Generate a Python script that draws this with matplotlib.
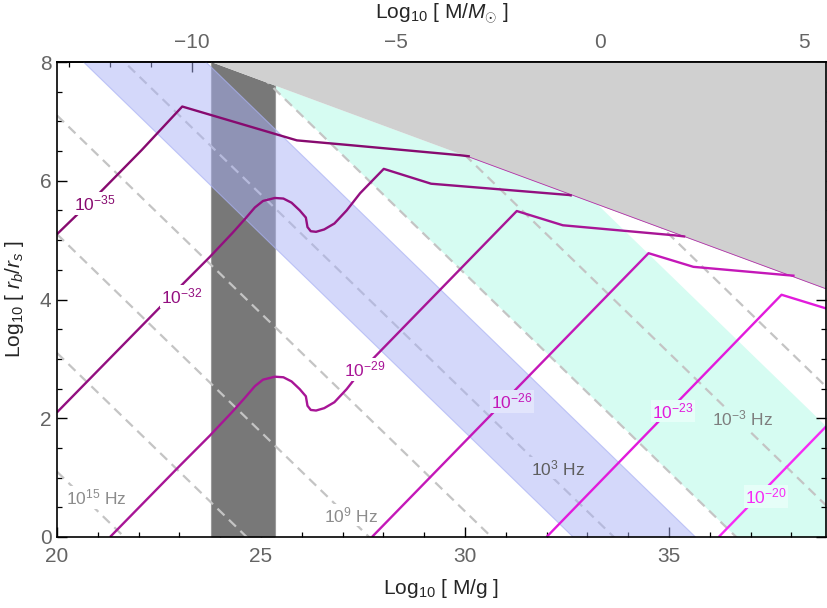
import numpy as np
import matplotlib
matplotlib.use("Agg")
import matplotlib.pyplot as plt
from matplotlib.ticker import MultipleLocator, FixedLocator

plt.rcParams['font.family'] = ['Liberation Sans', 'DejaVu Sans']
plt.rcParams['mathtext.fontset'] = 'custom'
plt.rcParams['mathtext.rm'] = 'Liberation Sans'
plt.rcParams['mathtext.it'] = 'Liberation Sans:italic'
plt.rcParams['mathtext.bf'] = 'Liberation Sans:bold'
plt.rcParams['lines.scale_dashes'] = False

# ---------------- data ----------------
LOG_MSUN_G = 33.2986
x_range = (20.0, 38.85)
y_range = (0.0, 8.0)

# excluded (light gray) region boundary
bound_x = [23.8, 38.85]
bound_y = [8.0, 4.18]

# dark vertical band (log10 M/g)
dark_band = (23.77, 25.34)

# frequency contours (log10 f / Hz)
freq_logs = [15, 12, 9, 6, 3, 0, -3, -6]
freq_ref_intercept = 1.1      # y at x=20 of the 10^15 Hz contour
freq_slope = -2.0 / 3.0       # dy/dx along a contour
freq_step = 2.0 / 3.0         # intercept shift per decade of f
blue_band = (1, 4)            # log10 f range
cyan_band = (-5, 0)

# top axis ticks (log10 M/Msun)
top_major = [-10, -5, 0, 5]
top_minor = [-13, -12, -11, -9, -8, -7, -6, -4, -3, -2, -1, 1, 2, 3, 4]

# strain contours
c35_x = [20.0, 21.05, 22.08, 23.07, 25.88, 27.18, 29.88, 30.12]
c35_y = [5.10, 5.80, 6.52, 7.25, 6.68, 6.60, 6.43, 6.41]

c32_x = [20.0, 23.01, 23.75, 24.30, 24.60, 24.85, 25.05, 25.34, 25.55, 25.75,
         25.95, 26.10, 26.14, 26.22, 26.35, 26.55, 26.80, 27.10, 27.43,
         28.01, 29.17, 32.55, 32.62]
c32_y = [2.10, 4.21, 4.72, 5.12, 5.35, 5.55, 5.66, 5.71, 5.70, 5.63,
         5.50, 5.38, 5.22, 5.15, 5.14, 5.18, 5.28, 5.50, 5.79,
         6.20, 5.95, 5.76, 5.75]

c29_x = [21.30, 23.01, 23.75, 24.30, 24.60, 24.85, 25.05, 25.34, 25.55, 25.75,
         25.95, 26.10, 26.14, 26.22, 26.35, 26.55, 26.80, 27.10, 27.43,
         31.27, 32.40, 35.15, 35.40]
c29_y = [0.0, 1.20, 1.71, 2.11, 2.34, 2.54, 2.65, 2.70, 2.69, 2.62,
         2.49, 2.37, 2.21, 2.14, 2.13, 2.17, 2.27, 2.49, 2.78,
         5.49, 5.25, 5.08, 5.06]

c26_x = [27.72, 34.50, 35.60, 37.90, 38.08]
c26_y = [0.0, 4.78, 4.55, 4.41, 4.40]

c23_x = [32.00, 37.76, 38.85]
c23_y = [0.0, 4.08, 3.85]

c20_x = [36.22, 38.85]
c20_y = [0.0, 1.86]

contours = [
    (c35_x, c35_y, "#870a6f", r"$10^{-35}$", (20.93, 5.62), "white"),
    (c32_x, c32_y, "#930f80", r"$10^{-32}$", (23.06, 4.05), "white"),
    (c29_x, c29_y, "#a81596", r"$10^{-29}$", (27.54, 2.82), "white"),
    (c26_x, c26_y, "#c418b8", r"$10^{-26}$", (31.15, 2.28), "#e2e5fc"),
    (c23_x, c23_y, "#e21bdc", r"$10^{-23}$", (35.10, 2.12), "#e6fef8"),
    (c20_x, c20_y, "#f72af5", r"$10^{-20}$", (37.38, 0.68), "#e6fef8"),
]

freq_labels = [r"$10^{15}$ Hz", r"$10^{9}$ Hz", r"$10^{3}$ Hz", r"$10^{-3}$ Hz"]
freq_label_pos = [(20.96, 0.66), (27.20, 0.37), (32.28, 1.16), (36.81, 1.99)]
freq_label_col = ["#8c8c8c", "#8c8c8c", "#5e5e5e", "#7e7e7e"]
freq_label_bg = ["white", "white", "#d4d8fa", "#d6fcf2"]

# ---------------- figure ----------------
W, H = 828, 608
fig = plt.figure(figsize=(W / 100, H / 100), dpi=100)
ax = fig.add_axes([57 / W, 1 - 537 / H, (826 - 57) / W, (537 - 62) / H])
ax.set_xlim(*x_range)
ax.set_ylim(*y_range)

xx = np.linspace(x_range[0], x_range[1], 4000)
bnd = np.interp(xx, bound_x, bound_y)


def fline(L):
    return freq_ref_intercept + freq_step * (15 - L) + freq_slope * (xx - 20)


# cyan band
lo = np.maximum(0, fline(cyan_band[1]))
hi = np.minimum(bnd, fline(cyan_band[0]))
ax.fill_between(xx, lo, hi, where=hi > lo, color="#d6fcf2", lw=0, zorder=1)

# dark band
m = (xx >= dark_band[0]) & (xx <= dark_band[1])
ax.fill_between(xx[m], 0, bnd[m], color="#787878", lw=0, zorder=2)
for xb in dark_band:
    mb = np.interp(xb, bound_x, bound_y)
    ax.plot([xb, xb], [0, mb], color="#9a9a9a", lw=0.8, zorder=2)

# dashed frequency lines
for L in freq_logs:
    ax.plot(xx, fline(L), color="#c4c4c4", lw=1.6, dashes=(7, 4.5), zorder=3)

# blue band (semi-transparent)
lo = np.maximum(0, fline(blue_band[1]))
hi = np.minimum(bnd, fline(blue_band[0]))
ax.fill_between(xx, lo, hi, where=hi > lo, color=(169 / 255, 177 / 255, 246 / 255),
                alpha=0.49, lw=0, zorder=4)
for L in blue_band:
    ax.plot(xx, fline(L), color="#aab2f4", lw=0.8, alpha=0.7, zorder=4)

# excluded gray region
m = xx >= bound_x[0]
ax.fill_between(xx[m], bnd[m], y_range[1], color="#d0d0d0", lw=0, zorder=5)
m2 = xx >= c35_x[-1]
ax.plot(xx[m2], bnd[m2], color="#b030a8", lw=0.6, zorder=6)

# strain contours + labels
for cx, cy, col, lab, pos, bg in contours:
    ax.plot(cx, cy, color=col, lw=1.7, zorder=7, solid_capstyle="butt",
            solid_joinstyle="round")
    ax.text(pos[0], pos[1], lab, color=col, fontsize=12.5, ha="center", va="center",
            zorder=8, bbox=dict(facecolor=bg, edgecolor="none", pad=1.0))

for lab, pos, col, bg in zip(freq_labels, freq_label_pos, freq_label_col, freq_label_bg):
    ax.text(pos[0], pos[1], lab, color=col, fontsize=12.5, ha="center", va="center",
            zorder=8, bbox=dict(facecolor=bg, edgecolor="none", pad=1.0))

# ---------------- axes styling ----------------
for s in ax.spines.values():
    s.set_linewidth(1.2)
    s.set_zorder(10)

ax.xaxis.set_major_locator(MultipleLocator(5))
ax.xaxis.set_minor_locator(MultipleLocator(1))
ax.yaxis.set_major_locator(MultipleLocator(2))
ax.yaxis.set_minor_locator(MultipleLocator(0.5))
ax.tick_params(which="both", direction="in", top=False, right=True,
               labelsize=15, labelcolor="#646464", color="black")
ax.tick_params(which="major", length=7, width=1.0)
ax.tick_params(which="minor", length=3.5, width=0.9)
ax.tick_params(axis="x", pad=7)
ax.tick_params(axis="y", pad=4)

ax.set_xlabel(r"Log$_{10}$ [ M/g ]", fontsize=15, color="#262626", labelpad=8)
ax.set_ylabel(r"Log$_{10}$ [ $r_b/r_s$ ]", fontsize=15, color="#262626", labelpad=10)

sec = ax.secondary_xaxis("top", functions=(lambda x: x - LOG_MSUN_G,
                                           lambda m: m + LOG_MSUN_G))
sec.xaxis.set_major_locator(FixedLocator(top_major))
sec.xaxis.set_minor_locator(FixedLocator(top_minor))
sec.tick_params(which="both", direction="in", labelsize=15, labelcolor="#646464")
sec.tick_params(which="major", length=7, width=1.0, pad=7)
sec.tick_params(which="minor", length=3.5, width=0.9)
sec.spines["top"].set_linewidth(1.2)
sec.set_xlabel(r"Log$_{10}$ [ M/$M_{\odot}$ ]", fontsize=15, color="#262626", labelpad=10)

fig.savefig("out.png", dpi=100)
